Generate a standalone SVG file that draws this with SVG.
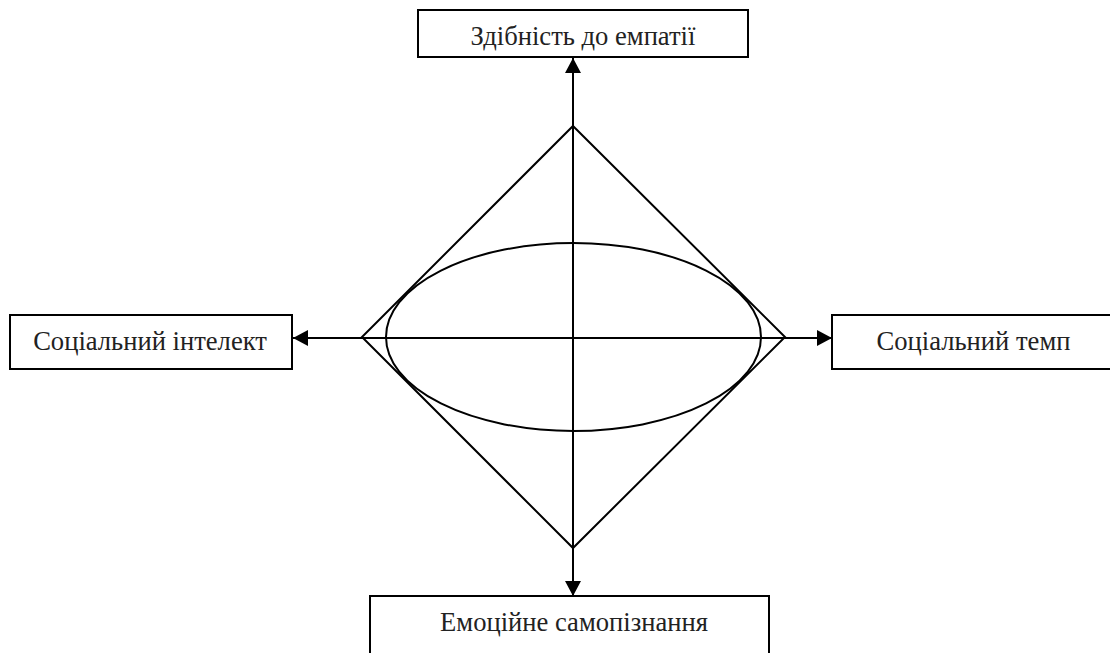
<svg xmlns="http://www.w3.org/2000/svg" width="1110" height="653" viewBox="0 0 1110 653">
<style>
.box{fill:#fff;stroke:#000;stroke-width:2}
.lbl{font-family:"Liberation Serif","DejaVu Serif",serif;font-size:26.6px;fill:#222;text-anchor:middle}
.ln{fill:none;stroke:#000;stroke-width:2}
</style>
<defs>
<marker id="ah" markerWidth="16" markerHeight="16" viewBox="0 0 16 16" refX="15" refY="8" orient="auto" markerUnits="userSpaceOnUse">
<path d="M0,0 L15,8 L0,16 Z" fill="#000"/>
</marker>
</defs>
<rect width="1110" height="653" fill="#fff"/>
<g id="shapes">
<polygon class="ln" points="573,126 785,337 573,548 362,337"/>
<ellipse class="ln" cx="573.5" cy="337" rx="187.5" ry="94"/>
</g>
<g id="connectors">
<line class="ln" x1="573" y1="580" x2="573" y2="58" marker-end="url(#ah)"/>
<line class="ln" x1="573" y1="80" x2="573" y2="596" marker-end="url(#ah)"/>
<line class="ln" x1="800" y1="338" x2="293" y2="338" marker-end="url(#ah)"/>
<line class="ln" x1="330" y1="338" x2="832" y2="338" marker-end="url(#ah)"/>
</g>
<g id="node-top">
<rect class="box" x="418" y="10" width="330" height="47"/>
<text class="lbl" x="583" y="45">Здібність до емпатії</text>
</g>
<g id="node-left">
<rect class="box" x="10" y="315" width="282" height="54"/>
<text class="lbl" x="150" y="350">Соціальний інтелект</text>
</g>
<g id="node-right">
<rect class="box" x="832" y="315" width="290" height="54"/>
<text class="lbl" x="973.5" y="350">Соціальний темп</text>
</g>
<g id="node-bottom">
<rect class="box" x="370" y="596" width="399" height="70"/>
<text class="lbl" x="574" y="631">Емоційне самопізнання</text>
</g>
</svg>
